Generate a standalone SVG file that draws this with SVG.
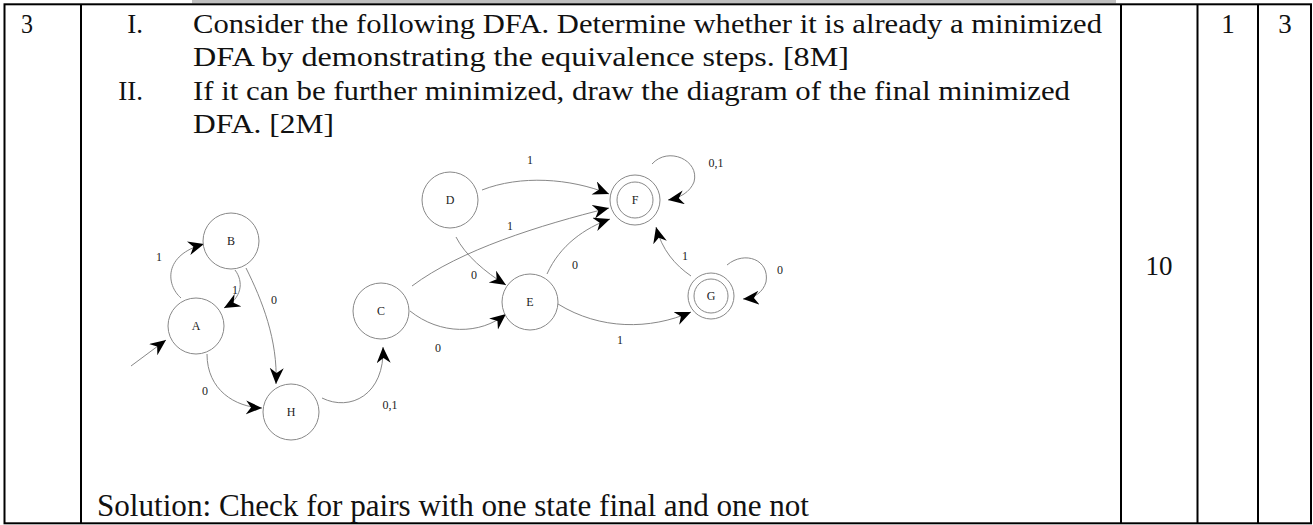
<svg xmlns="http://www.w3.org/2000/svg" width="1313" height="525" viewBox="0 0 1313 525">
<style>
.t{font-family:"Liberation Serif",serif;font-size:27px;fill:#111}
.sol{font-family:"Liberation Serif",serif;font-size:31px;fill:#111}
.grid{stroke:#000;stroke-width:2;fill:none}
.st{fill:#fff;stroke:#888;stroke-width:1}
.nl{font-family:"Liberation Serif",serif;font-size:12px;fill:#222;text-anchor:middle}
.el{font-family:"Liberation Serif",serif;font-size:12px;fill:#222;text-anchor:middle}
.e{fill:none;stroke:#888;stroke-width:1;marker-end:url(#ah)}
</style>
<defs>
<marker id="ah" markerUnits="userSpaceOnUse" markerWidth="18" markerHeight="16" refX="16" refY="7" orient="auto">
<path d="M0,0 L16,7 L0,14 L5,7 z" fill="#000"/>
</marker>
</defs>
<rect x="192" y="0" width="924" height="3.3" fill="#bfbfbf"/>
<g id="table">
<rect class="grid" x="4.5" y="4.3" width="1306.5" height="519"/>
<line class="grid" x1="81" y1="4.3" x2="81" y2="523.3"/>
<line class="grid" x1="1121" y1="4.3" x2="1121" y2="523.3"/>
<line class="grid" x1="1197.5" y1="4.3" x2="1197.5" y2="523.3"/>
<line class="grid" x1="1258" y1="4.3" x2="1258" y2="523.3"/>
</g>
<g id="texts">
<text class="t" x="21" y="33" textLength="12" lengthAdjust="spacingAndGlyphs">3</text>
<text class="t" x="143" y="33" text-anchor="end">I.</text>
<text class="t" x="193" y="33" textLength="909" lengthAdjust="spacingAndGlyphs">Consider the following DFA. Determine whether it is already a minimized</text>
<text class="t" x="193" y="66" textLength="656" lengthAdjust="spacingAndGlyphs">DFA by demonstrating the equivalence steps. [8M]</text>
<text class="t" x="143" y="99.5" text-anchor="end">II.</text>
<text class="t" x="193" y="99.5" textLength="877" lengthAdjust="spacingAndGlyphs">If it can be further minimized, draw the diagram of the final minimized</text>
<text class="t" x="193" y="133" textLength="141" lengthAdjust="spacingAndGlyphs">DFA. [2M]</text>
<text class="t" x="1159" y="275" text-anchor="middle">10</text>
<text class="t" x="1228" y="33" text-anchor="middle">1</text>
<text class="t" x="1285" y="33" text-anchor="middle">3</text>
<text class="sol" x="97" y="516" textLength="712" lengthAdjust="spacingAndGlyphs">Solution: Check for pairs with one state final and one not</text>
</g>
<g id="connectors">
<path class="e" d="M131,366 L166,340"/>
<path class="e" d="M181,298 C166,285 163,255 204,244"/>
<path class="e" d="M235,270 C244,282 242,298 224,308"/>
<path class="e" d="M246,268 C262,300 278,340 276,384"/>
<path class="e" d="M207,354 C207,390 235,407 262,408"/>
<path class="e" d="M322,398 C350,412 385,395 383,347"/>
<path class="e" d="M412,286 C460,250 540,225 609,208"/>
<path class="e" d="M482,190 C520,175 570,178 609,194"/>
<path class="e" d="M456,237 C465,255 485,272 506,285"/>
<path class="e" d="M547,274 C560,245 585,228 610,219"/>
<path class="e" d="M410,311 C440,335 480,335 506,314"/>
<path class="e" d="M558,304 C600,330 650,330 691,312"/>
<path class="e" d="M691,276 C675,265 662,250 656,227"/>
<path class="e" d="M652,164 C668,146 700,160 694,182 C690,192 680,198 668,200"/>
<path class="e" d="M727,265 C745,250 770,260 766,282 C763,292 755,298 743,299"/>
<text class="el" x="159" y="261">1</text>
<text class="el" x="235" y="294">1</text>
<text class="el" x="274" y="304">0</text>
<text class="el" x="205" y="395">0</text>
<text class="el" x="390" y="409">0,1</text>
<text class="el" x="510" y="230">1</text>
<text class="el" x="530" y="164">1</text>
<text class="el" x="474" y="279">0</text>
<text class="el" x="575" y="269">0</text>
<text class="el" x="438" y="352">0</text>
<text class="el" x="620" y="344">1</text>
<text class="el" x="685" y="260">1</text>
<text class="el" x="716" y="167">0,1</text>
<text class="el" x="780" y="274">0</text>
</g>
<g id="node-A"><circle class="st" cx="196" cy="326" r="28"/><text class="nl" x="196" y="330">A</text></g>
<g id="node-B"><circle class="st" cx="231" cy="241" r="28"/><text class="nl" x="231" y="245">B</text></g>
<g id="node-H"><circle class="st" cx="291" cy="412" r="28"/><text class="nl" x="291" y="416">H</text></g>
<g id="node-C"><circle class="st" cx="381" cy="311" r="28"/><text class="nl" x="381" y="315">C</text></g>
<g id="node-D"><circle class="st" cx="450" cy="200" r="28"/><text class="nl" x="450" y="204">D</text></g>
<g id="node-E"><circle class="st" cx="530" cy="302" r="28"/><text class="nl" x="530" y="306">E</text></g>
<g id="node-F"><circle class="st" cx="635" cy="200" r="25"/><circle class="st" cx="635" cy="200" r="18"/><text class="nl" x="635" y="204">F</text></g>
<g id="node-G"><circle class="st" cx="711" cy="296" r="23"/><circle class="st" cx="711" cy="296" r="17"/><text class="nl" x="711" y="300">G</text></g>
</svg>
